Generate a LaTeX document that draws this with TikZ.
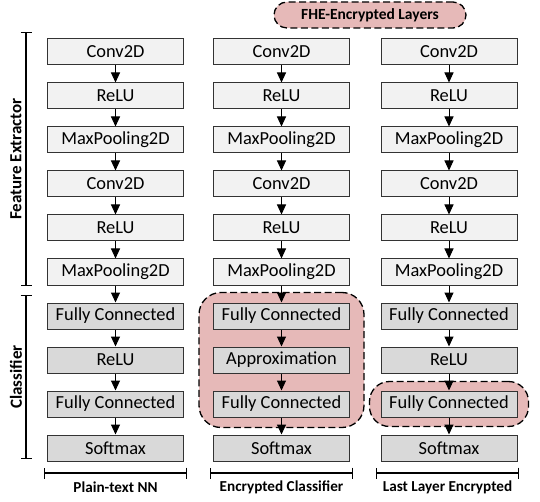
\documentclass[tikz,border=0pt]{standalone}
\usepackage{fontspec}
\setmainfont{Carlito}
\usetikzlibrary{positioning,arrows.meta,fit,backgrounds}

\definecolor{featfill}{HTML}{F2F2F2}
\definecolor{clsfill}{HTML}{D9D9D9}
\definecolor{fhepink}{HTML}{E6B9B8}

\begin{document}
\begin{tikzpicture}[x=1pt,y=-1pt,node distance=44pt,>={Triangle[length=10pt,width=9pt]}]
	\tikzset{layer/.style={draw=black!80,line width=1pt,rectangle,minimum width=136pt,minimum height=26pt,inner sep=0pt,font=\fontsize{18.4}{22}\selectfont}}
	\tikzset{feat/.style={layer,fill=featfill}}
	\tikzset{cls/.style={layer,fill=clsfill}}
	\tikzset{encbox/.style={draw,line width=1.3pt,dash pattern=on 7pt off 3.5pt,fill=fhepink,rounded corners=22pt}}
	\tikzset{brace/.style={{Bar[width=11pt]}-{Bar[width=11pt]},line width=1.3pt}}
	\tikzset{caption/.style={font=\bfseries\fontsize{15.2}{18}\selectfont}}
	\useasboundingbox (0,0) rectangle (540,502);

	% plain-text network
	\node[feat] (p1) at (115.5,52) {Conv2D};
	\node[feat] (p2) [below of=p1] {ReLU};
	\node[feat] (p3) [below of=p2] {MaxPooling2D};
	\node[feat] (p4) [below of=p3] {Conv2D};
	\node[feat] (p5) [below of=p4] {ReLU};
	\node[feat] (p6) [below of=p5] {MaxPooling2D};
	\node[cls]  (p7) [below of=p6] {Fully Connected};
	\node[cls]  (p8) [below of=p7] {ReLU};
	\node[cls]  (p9) [below of=p8] {Fully Connected};
	\node[cls]  (p10) [below of=p9] {Softmax};

	% encrypted classifier
	\node[feat] (e1) at (281.5,52) {Conv2D};
	\node[feat] (e2) [below of=e1] {ReLU};
	\node[feat] (e3) [below of=e2] {MaxPooling2D};
	\node[feat] (e4) [below of=e3] {Conv2D};
	\node[feat] (e5) [below of=e4] {ReLU};
	\node[feat] (e6) [below of=e5] {MaxPooling2D};
	\node[cls]  (e7) [below of=e6] {Fully Connected};
	\node[cls]  (e8) [below of=e7] {Approximation};
	\node[cls]  (e9) [below of=e8] {Fully Connected};
	\node[cls]  (e10) [below of=e9] {Softmax};

	% last layer encrypted
	\node[feat] (l1) at (449,52) {Conv2D};
	\node[feat] (l2) [below of=l1] {ReLU};
	\node[feat] (l3) [below of=l2] {MaxPooling2D};
	\node[feat] (l4) [below of=l3] {Conv2D};
	\node[feat] (l5) [below of=l4] {ReLU};
	\node[feat] (l6) [below of=l5] {MaxPooling2D};
	\node[cls]  (l7) [below of=l6] {Fully Connected};
	\node[cls]  (l8) [below of=l7] {ReLU};
	\node[cls]  (l9) [below of=l8] {Fully Connected};
	\node[cls]  (l10) [below of=l9] {Softmax};

	\begin{scope}[on background layer]
		\node[encbox,inner xsep=14pt,inner ysep=10pt,fit=(e7)(e9)] (encA) {};
		\node[encbox,inner xsep=11pt,inner ysep=9pt,rounded corners=20pt,fit=(l9)] (encB) {};
	\end{scope}

	\path[->,line width=1pt]
		(p1) edge (p2) (p2) edge (p3) (p3) edge (p4) (p4) edge (p5) (p5) edge (p6)
		(p6) edge (p7) (p7) edge (p8) (p8) edge (p9) (p9) edge (p10)
		(e1) edge (e2) (e2) edge (e3) (e3) edge (e4) (e4) edge (e5) (e5) edge (e6)
		(e6) edge (e7) (e7) edge (e8) (e8) edge (e9) (e9) edge (e10)
		(l1) edge (l2) (l2) edge (l3) (l3) edge (l4) (l4) edge (l5) (l5) edge (l6)
		(l6) edge (l7) (l7) edge (l8) (l8) edge (l9) (l9) edge (l10);

	% legend
	\node[encbox,rounded corners=13pt,minimum width=192pt,minimum height=26pt,inner sep=0pt,font=\bfseries\fontsize{15.5}{18}\selectfont] (fhe) at (370,15) {FHE-Encrypted Layers};

	% side brackets
	\coordinate (featTop) at (26,32);
	\coordinate (featBot) at (26,286);
	\coordinate (clsTop) at (26,295);
	\coordinate (clsBot) at (26,459);
	\draw[brace] (featTop) -- (featBot);
	\draw[brace] (clsTop) -- (clsBot);
	\node[rotate=90,font=\bfseries\fontsize{17}{20}\selectfont] (featLbl) at (16,159) {Feature Extractor};
	\node[rotate=90,font=\bfseries\fontsize{17}{20}\selectfont] (clsLbl) at (16,377) {Classifier};

	% bottom brackets
	\coordinate (pL) at (44,473);
	\coordinate (pR) at (187,473);
	\coordinate (eL) at (210,473);
	\coordinate (eR) at (353,473);
	\coordinate (lL) at (376,473);
	\coordinate (lR) at (519,473);
	\draw[brace] (pL) -- (pR);
	\draw[brace] (eL) -- (eR);
	\draw[brace] (lL) -- (lR);
	\node[caption] (pLbl) at (115.5,487) {Plain-text NN};
	\node[caption] (eLbl) at (281.5,487) {Encrypted Classifier};
	\node[caption] (lLbl) at (447.5,487) {Last Layer Encrypted};
\end{tikzpicture}
\end{document}
